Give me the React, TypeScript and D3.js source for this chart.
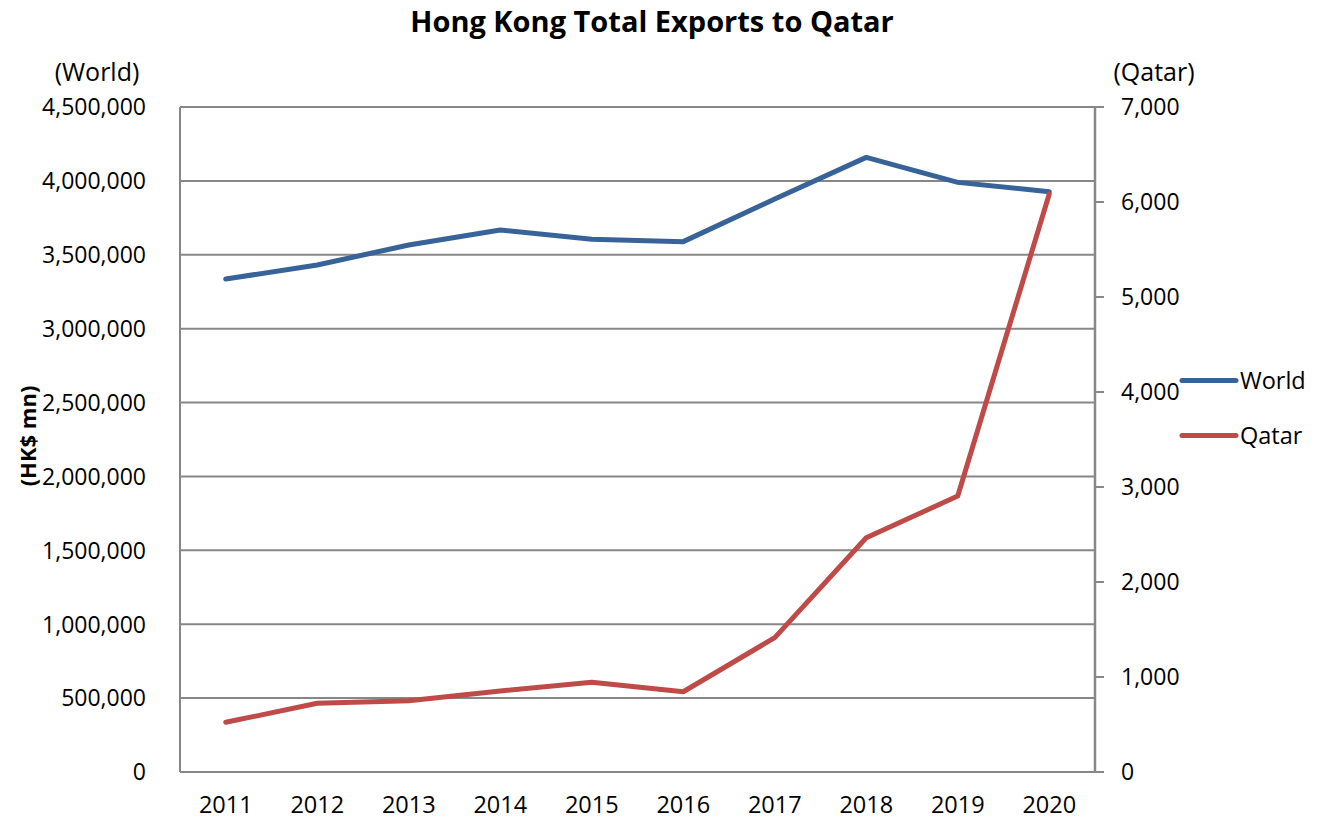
import React from "react";
import * as d3 from "d3";

const years = ["2011", "2012", "2013", "2014", "2015", "2016", "2017", "2018", "2019", "2020"];
const worldValues = [3336000, 3431000, 3566000, 3668000, 3605000, 3589000, 3877000, 4159000, 3990000, 3927000];
const qatarValues = [523, 723, 750, 853, 944, 845, 1414, 2466, 2905, 6084];
const leftTicks = [0, 500000, 1000000, 1500000, 2000000, 2500000, 3000000, 3500000, 4000000, 4500000];
const rightTicks = [0, 1000, 2000, 3000, 4000, 5000, 6000, 7000];

const W = 1327, H = 827;
const m = { left: 180, right: 1095, top: 107, bottom: 772 };
const font = "'Open Sans', sans-serif";
const grid = "#878787";
const blue = "#386399";
const red = "#BE4B48";

export default function App() {
  const x = d3.scaleBand<string>().domain(years).range([m.left, m.right]);
  const yL = d3.scaleLinear().domain([0, 4500000]).range([m.bottom, m.top]);
  const yR = d3.scaleLinear().domain([0, 7000]).range([m.bottom, m.top]);
  const cx = (d: string) => (x(d) as number) + x.bandwidth() / 2;
  const fmt = d3.format(",");
  const worldLine = d3.line<number>().x((_, i) => cx(years[i])).y((v) => yL(v))(worldValues) as string;
  const qatarLine = d3.line<number>().x((_, i) => cx(years[i])).y((v) => yR(v))(qatarValues) as string;

  return (
    <svg width={W} height={H} style={{ position: "absolute", left: 0, top: 0 }} fontFamily={font}>
      <rect width={W} height={H} fill="#fff" />
      <text x={652} y={32} textAnchor="middle" fontSize={29} fontWeight="bold" fill="#000">
        Hong Kong Total Exports to Qatar
      </text>
      {leftTicks.map((t) => (
        <line key={"g" + t} x1={m.left} x2={m.right} y1={yL(t)} y2={yL(t)} stroke={grid} strokeWidth={2} />
      ))}
      <line x1={m.left} x2={m.left} y1={m.top} y2={m.bottom} stroke={grid} strokeWidth={2} />
      <line x1={m.right} x2={m.right} y1={m.top} y2={m.bottom} stroke={grid} strokeWidth={2.5} />
      {rightTicks.map((t) => (
        <line key={"rt" + t} x1={m.right} x2={m.right + 9} y1={yR(t)} y2={yR(t)} stroke={grid} strokeWidth={2} />
      ))}
      {leftTicks.map((t) => (
        <text key={"lt" + t} x={146} y={yL(t)} dy="0.36em" textAnchor="end" fontSize={23} fill="#000">
          {fmt(t)}
        </text>
      ))}
      {rightTicks.map((t) => (
        <text key={"rl" + t} x={1121} y={yR(t)} dy="0.36em" textAnchor="start" fontSize={23} fill="#000">
          {fmt(t)}
        </text>
      ))}
      {years.map((yv) => (
        <text key={yv} x={cx(yv)} y={813} textAnchor="middle" fontSize={23.5} fill="#000">
          {yv}
        </text>
      ))}
      <text x={97} y={81} textAnchor="middle" fontSize={25} fill="#000">(World)</text>
      <text x={1154} y={81} textAnchor="middle" fontSize={25} fill="#000">(Qatar)</text>
      <text transform="translate(36,436) rotate(-90)" textAnchor="middle" fontSize={22} fontWeight="bold" fill="#000">
        (HK$ mn)
      </text>
      <path d={worldLine} fill="none" stroke={blue} strokeWidth={5} strokeLinecap="round" strokeLinejoin="round" />
      <path d={qatarLine} fill="none" stroke={red} strokeWidth={5} strokeLinecap="round" strokeLinejoin="round" />
      <line x1={1182} x2={1236} y1={380.5} y2={380.5} stroke={blue} strokeWidth={5} strokeLinecap="round" />
      <text x={1240} y={380.5} dy="0.36em" fontSize={23.5} fill="#000">World</text>
      <line x1={1182} x2={1236} y1={435.5} y2={435.5} stroke={red} strokeWidth={5} strokeLinecap="round" />
      <text x={1240} y={435.5} dy="0.36em" fontSize={23.5} fill="#000">Qatar</text>
    </svg>
  );
}
